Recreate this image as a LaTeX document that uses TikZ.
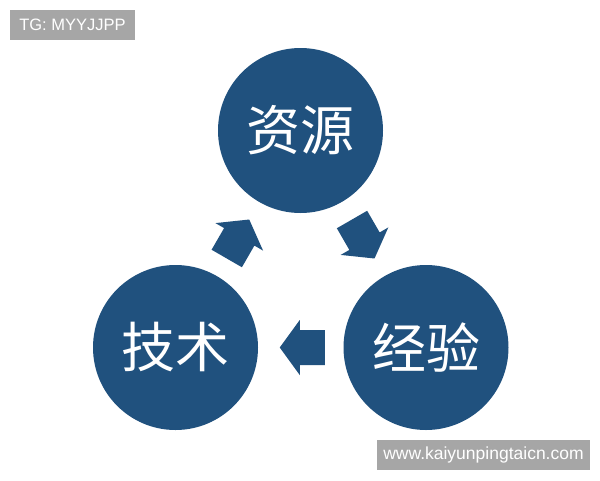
\documentclass[tikz,border=0pt]{standalone}
\usepackage{fontspec}
\setmainfont{Liberation Sans}
\newfontfamily\cjk{Noto Sans CJK SC}
\usetikzlibrary{calc}
\definecolor{circblue}{RGB}{32,81,126}
\definecolor{taggray}{RGB}{166,166,166}
\begin{document}
\begin{tikzpicture}[x=1pt,y=-1pt,
  circ/.style={circle, fill=circblue, minimum size=165pt, inner sep=0pt, text=white, font=\cjk\fontsize{54}{54}\selectfont},
  tagbox/.style={fill=taggray, text=white, inner sep=0pt, minimum height=30pt},
  blockarrow/.style={fill=circblue, draw=none}]
\useasboundingbox (0,0) rectangle (600,480);
\fill[white] (0,0) rectangle (600,480);
\node[circ] (zy) at (300.5,130.5) {资源};
\node[circ] (js) at (175.5,347.5) {技术};
\node[circ] (jy) at (426,347.5) {经验};
\coordinate (m1) at ($(js)!0.5!(zy)$);
\coordinate (m2) at ($(zy)!0.5!(jy)$);
\coordinate (m3) at ($(jy)!0.5!(js)+(1.5,0)$);
\fill[blockarrow, shift={(m1)}, rotate=60] (22.5,0) -- (2.5,27.5) -- (2.5,17.5) -- (-22.5,17.5) -- (-22.5,-17.5) -- (2.5,-17.5) -- (2.5,-27.5) -- cycle;
\fill[blockarrow, shift={(m2)}, rotate=-60] (22.5,0) -- (2.5,27.5) -- (2.5,17.5) -- (-22.5,17.5) -- (-22.5,-17.5) -- (2.5,-17.5) -- (2.5,-27.5) -- cycle;
\fill[blockarrow, shift={(m3)}, rotate=180] (22.5,0) -- (2.5,27.5) -- (2.5,17.5) -- (-22.5,17.5) -- (-22.5,-17.5) -- (2.5,-17.5) -- (2.5,-27.5) -- cycle;
\node[tagbox, minimum width=125pt, font=\fontsize{16.5}{16.5}\selectfont] (tg) at (72.5,25) {TG: MYYJJPP};
\node[tagbox, minimum width=213pt, font=\fontsize{17.5}{17.5}\selectfont] (www) at (483.5,455) {www.kaiyunpingtaicn.com};
\end{tikzpicture}
\end{document}
